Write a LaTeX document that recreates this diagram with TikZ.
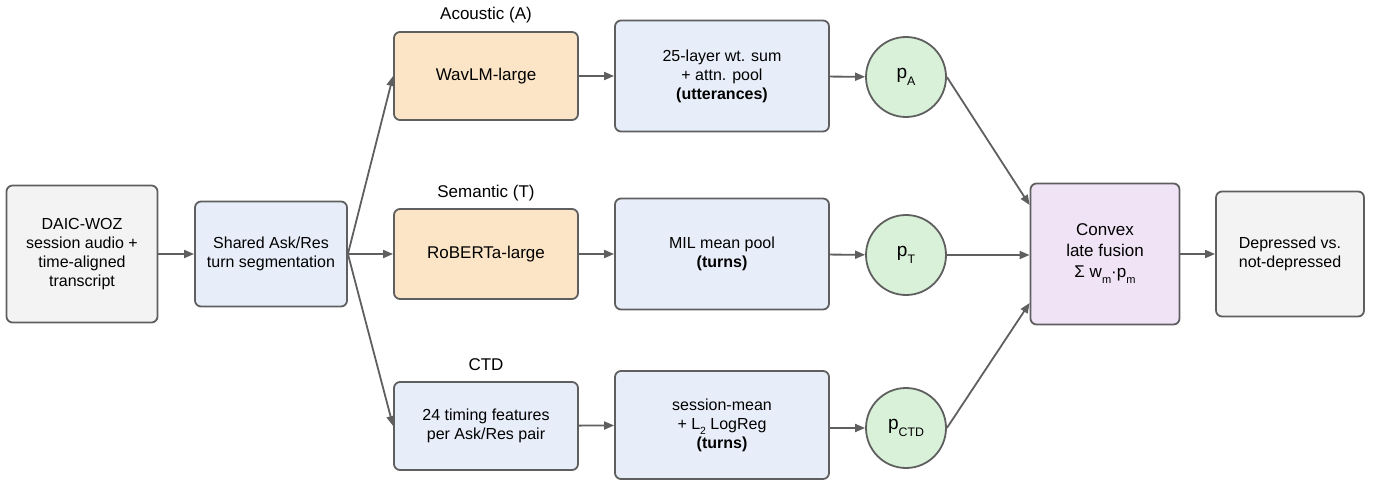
\documentclass[tikz,border=0pt]{standalone}
\usepackage{fontspec}
\setmainfont{Liberation Sans}
\usetikzlibrary{arrows.meta}
\usetikzlibrary{positioning}
\definecolor{edgegray}{HTML}{5F5F5F}
\definecolor{fillgray}{HTML}{F3F3F3}
\definecolor{fillblue}{HTML}{E8EEF9}
\definecolor{fillorange}{HTML}{FCE5C6}
\definecolor{fillgreen}{HTML}{D9F1D8}
\definecolor{fillpurple}{HTML}{EFE3F5}
\newcommand{\lowsub}[1]{\raisebox{-0.35em}{\scalebox{0.65}{#1}}}

\begin{document}
\begin{tikzpicture}[x=1pt,y=-1pt,
  box/.style={draw=edgegray,line width=1.8pt,rounded corners=6pt,align=center,
    inner sep=0pt,font=\fontsize{16}{19}\selectfont},
  prob/.style={draw=edgegray,line width=1.8pt,circle,fill=fillgreen,minimum size=80pt,
    inner sep=0pt,font=\fontsize{19}{22}\selectfont},
  head/.style={font=\fontsize{17}{20}\selectfont,inner sep=0pt},
  flow/.style={draw=edgegray,line width=1.8pt,-{Triangle[length=10pt,width=8pt]}}]
\useasboundingbox (0,0) rectangle (1383,481);
\node[box,fill=fillgray,minimum width=151pt,minimum height=137pt] (data) at (82,254)
  {DAIC-WOZ\\session audio +\\time-aligned\\transcript};
\node[box,fill=fillblue,minimum width=152pt,minimum height=105pt] (seg) at (271,254)
  {Shared Ask/Res\\turn segmentation};
% three branches
\node[box,fill=fillorange,minimum width=184pt,minimum height=88pt,
  font=\fontsize{17}{20}\selectfont] (wavlm) at (486,76) {WavLM-large};
\node[box,fill=fillorange,minimum width=184pt,minimum height=90pt,
  font=\fontsize{17}{20}\selectfont] (roberta) at (486,254) {RoBERTa-large};
\node[box,fill=fillblue,minimum width=184pt,minimum height=88pt] (ctd) at (486,426)
  {24 timing features\\per Ask/Res pair};
\node[head] (acoustic) at (486,15) {Acoustic (A)};
\node[head] (semantic) at (486,193) {Semantic (T)};
\node[head] (ctdlbl) at (486,365) {CTD};
\node[box,fill=fillblue,minimum width=214pt,minimum height=111pt] (wsum) at (722,76)
  {25-layer wt. sum\\+ attn. pool\\\textbf{(utterances)}};
\node[box,fill=fillblue,minimum width=214pt,minimum height=111pt] (mil) at (722,254)
  {MIL mean pool\\\textbf{(turns)}};
\node[box,fill=fillblue,minimum width=214pt,minimum height=108pt] (logreg) at (722,425)
  {session-mean\\+ L\lowsub{2} LogReg\\\textbf{(turns)}};
\node[prob] (pa) at (906,77) {p\lowsub{A}};
\node[prob] (pt) at (906,255) {p\lowsub{T}};
\node[prob] (pc) at (906,428) {p\lowsub{CTD}};
\node[box,fill=fillpurple,minimum width=149pt,minimum height=141pt,
  font=\fontsize{17}{21}\selectfont] (fuse) at (1105,254)
  {Convex\\late fusion\\Σ w\lowsub{m}·p\lowsub{m}};
\node[box,fill=fillgray,minimum width=148pt,minimum height=125pt] (out) at (1290,254)
  {Depressed vs.\\not-depressed};
% connectors
\draw[flow] (data) -- (seg);
\draw[flow] (seg.east) -- (wavlm.west);
\draw[flow] (seg.east) -- (roberta.west);
\draw[flow] (seg.east) -- (ctd.west);
\draw[flow] (wavlm) -- (wsum);
\draw[flow] (roberta) -- (mil);
\draw[flow] (ctd) -- (logreg);
\draw[flow] (wsum) -- (pa);
\draw[flow] (mil) -- (pt);
\draw[flow] (logreg.east |- pc) -- (pc);
\draw[flow] (pa.east) -- (fuse.west |- 0,205);
\draw[flow] (pt) -- (fuse.west |- pt);
\draw[flow] (pc.east) -- (fuse.west |- 0,303);
\draw[flow] (fuse) -- (out);
\end{tikzpicture}
\end{document}
